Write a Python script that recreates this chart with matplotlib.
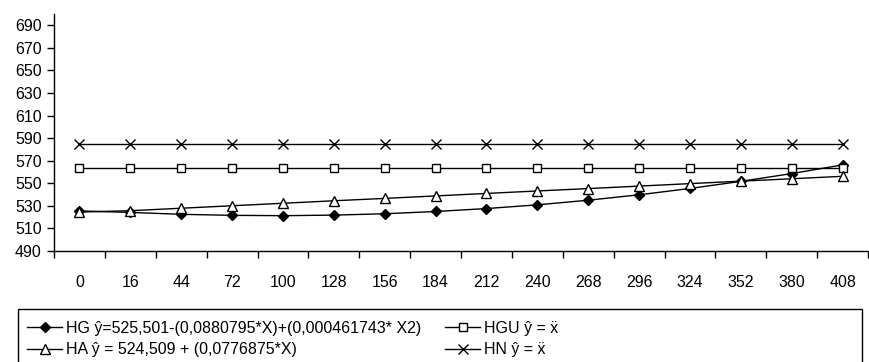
import matplotlib
matplotlib.use("Agg")
import matplotlib.pyplot as plt
from matplotlib.patches import Rectangle

plt.rcParams['font.family'] = ['Liberation Sans', 'DejaVu Sans']

# dados
categorias = ["0", "16", "44", "72", "100", "128", "156", "184",
              "212", "240", "268", "296", "324", "352", "380", "408"]
hg = [525.5, 524.2, 522.5, 521.6, 521.3, 521.8, 523.0, 525.0,
      527.6, 530.9, 535.0, 539.8, 545.4, 551.7, 558.6, 566.3]
ha = [524.5, 525.7, 527.9, 530.1, 532.3, 534.5, 536.6, 538.8,
      541.0, 543.2, 545.3, 547.5, 549.7, 551.9, 554.0, 556.2]
hgu = [563.2] * 16
hn = [585.0] * 16
y_ticks = list(range(490, 700, 20))

rotulos = ["HG ŷ=525,501-(0,0880795*X)+(0,000461743* X2)",
           "HA ŷ = 524,509 + (0,0776875*X)",
           "HGU ŷ = ẍ",
           "HN ŷ = ẍ"]

W, H = 869, 362
fs = 11.5
fig = plt.figure(figsize=(W / 100, H / 100), dpi=100)
ax = fig.add_axes([54 / W, 1 - 251 / H, (868 - 54) / W, (251 - 14) / H])

x = list(range(len(categorias)))
l1, = ax.plot(x, hg, color="black", lw=1, marker="D", ms=5.5,
              mfc="black", mec="black", zorder=3)
l2, = ax.plot(x, ha, color="black", lw=1, marker="^", ms=7.5,
              mfc="white", mec="black", zorder=4)
l3, = ax.plot(x, hgu, color="black", lw=1, marker="s", ms=6,
              mfc="white", mec="black", zorder=3)
l4, = ax.plot(x, hn, color="black", lw=1, marker="x", ms=7,
              mec="black", mew=1, zorder=3)

ax.set_xlim(-0.5, len(categorias) - 0.5)
ax.set_ylim(490, 700)
ax.set_yticks(y_ticks)
ax.tick_params(axis="y", length=5, width=1, pad=4, labelsize=fs)

ax.set_xticks([i - 0.5 for i in range(len(categorias) + 1)])
ax.set_xticklabels([])
ax.set_xticks(x, minor=True)
ax.set_xticklabels(categorias, minor=True)
ax.tick_params(axis="x", which="major", length=5, width=1)
ax.tick_params(axis="x", which="minor", length=0, pad=17, labelsize=fs)

for s in ["top", "right"]:
    ax.spines[s].set_visible(False)
for s in ["left", "bottom"]:
    ax.spines[s].set_linewidth(1)

# legenda com moldura própria
leg = fig.legend([l1, l2, l3, l4], rotulos, ncol=2, frameon=False,
                 loc="upper left", bbox_to_anchor=(19 / W, 1 - 313 / H),
                 fontsize=fs, handlelength=2.2, handletextpad=0.25,
                 columnspacing=1.5, borderpad=0, labelspacing=0.4)
fig.add_artist(Rectangle((18 / W, -0.05), (862 - 18) / W, 0.05 + (362 - 309) / H,
                         transform=fig.transFigure, fill=False,
                         edgecolor="black", lw=1))

fig.savefig("out.png", dpi=100)
